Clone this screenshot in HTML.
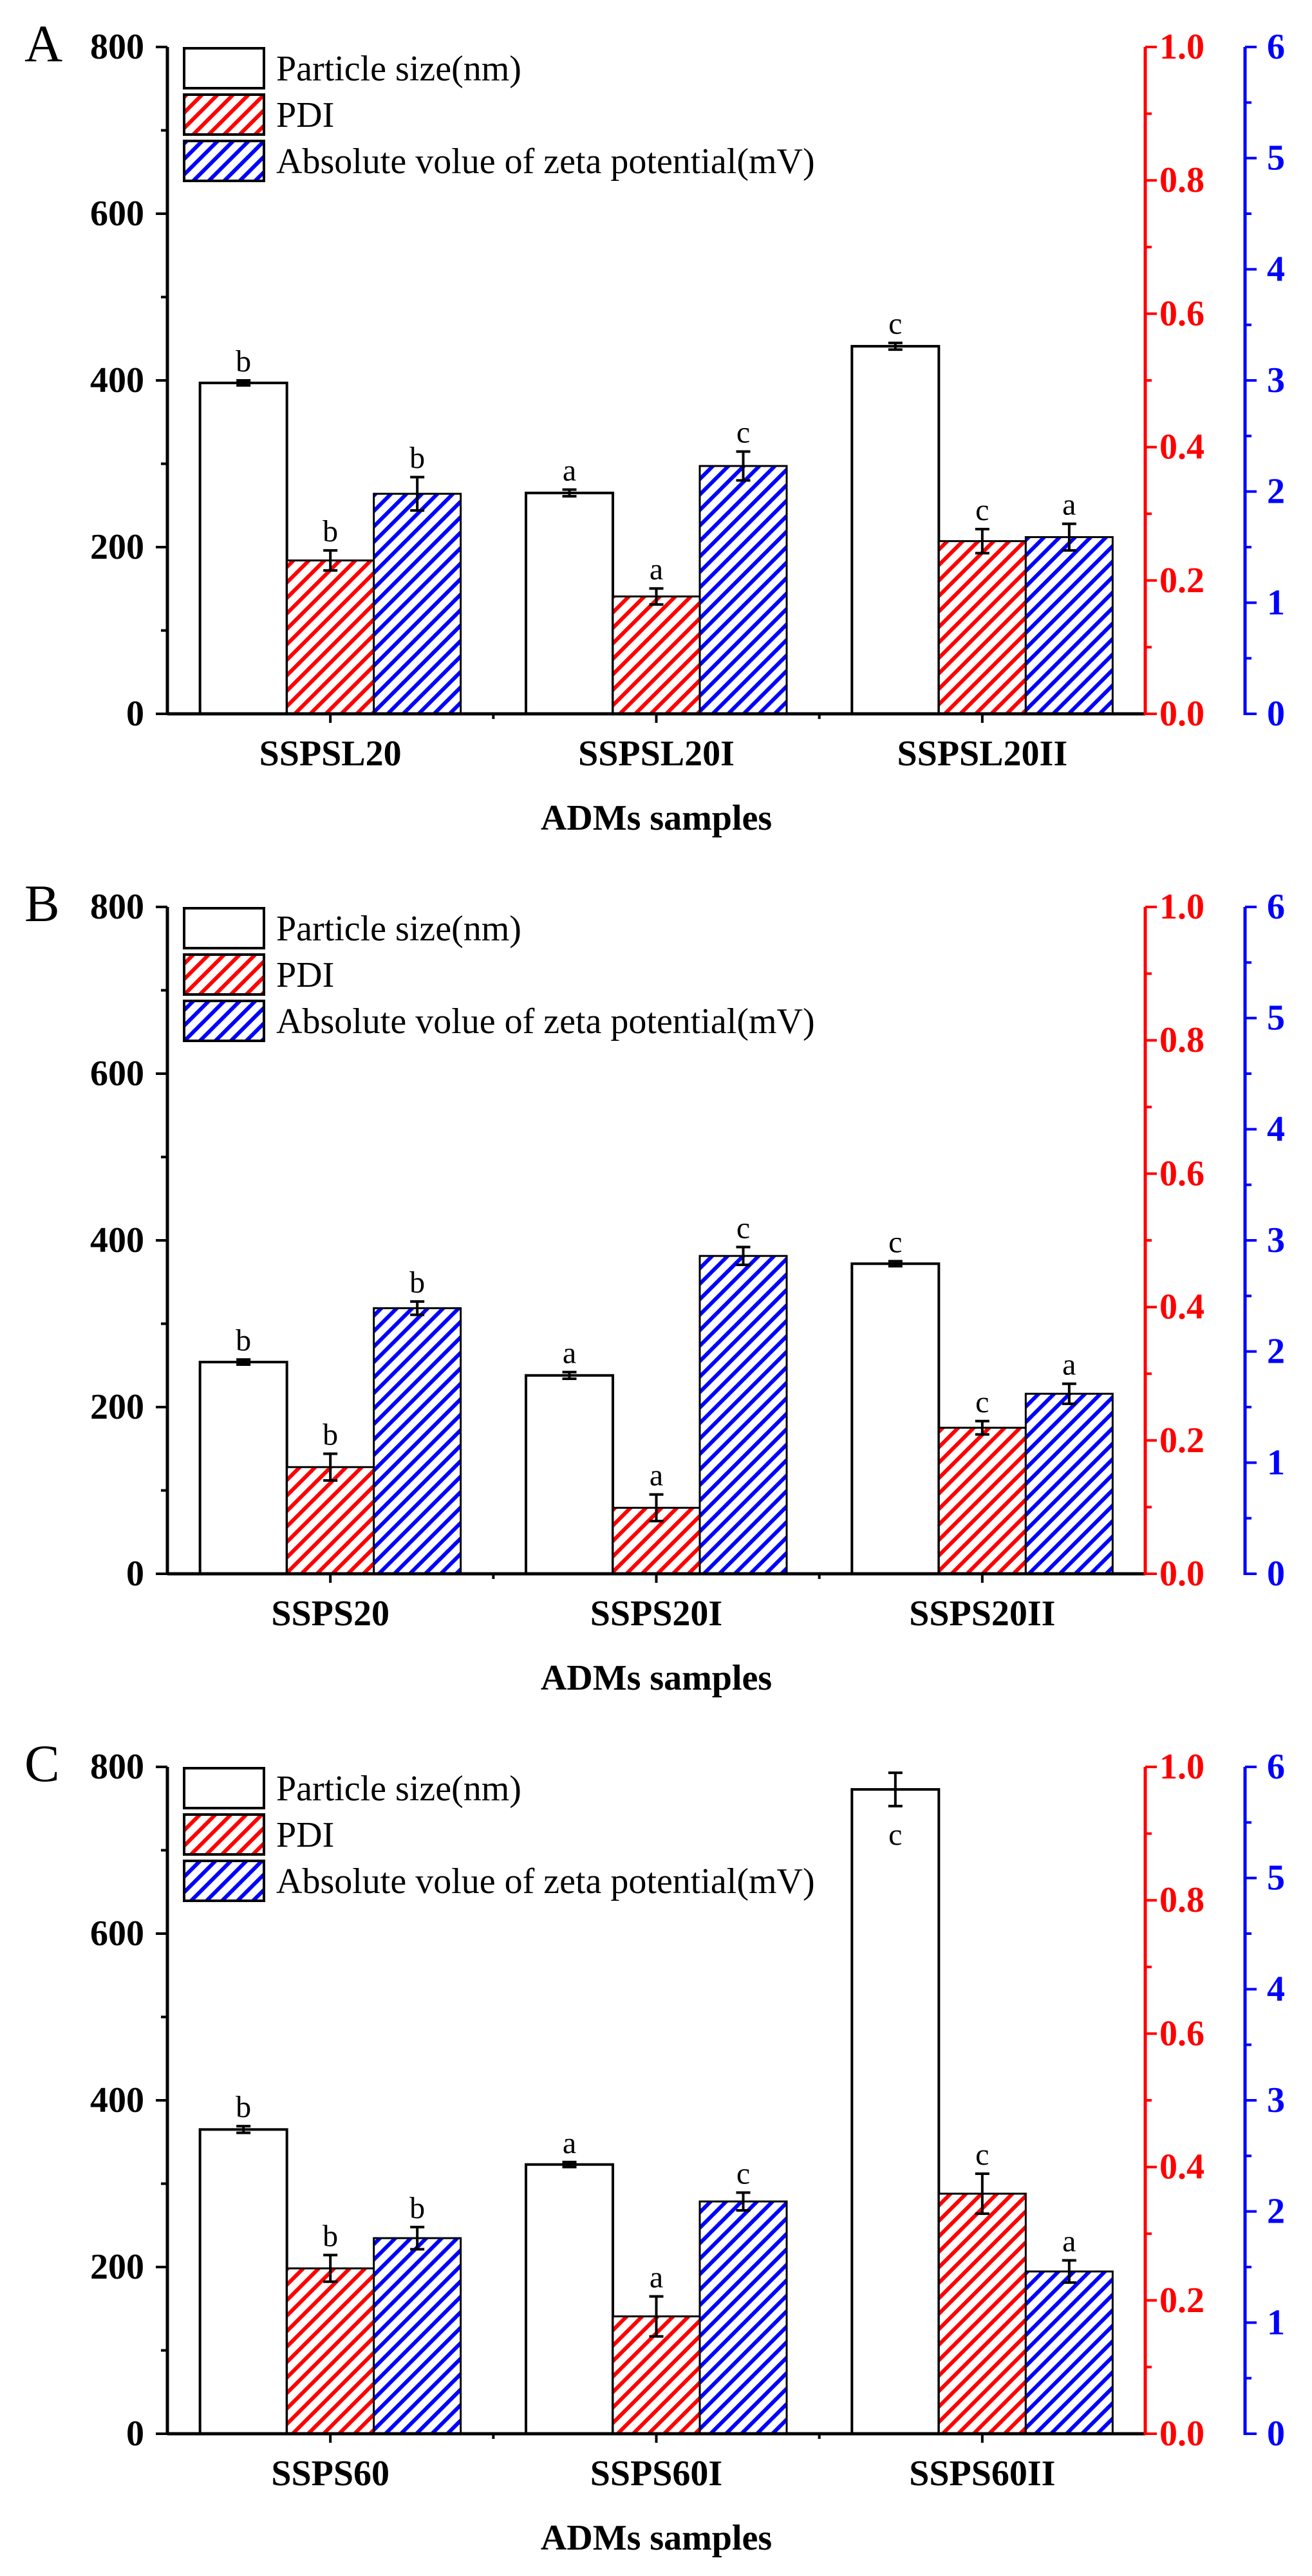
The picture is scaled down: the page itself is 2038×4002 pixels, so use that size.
<!DOCTYPE html>
<html><head><meta charset="utf-8"><style>
html,body{margin:0;padding:0;background:#fff;}
svg{display:block;font-family:"Liberation Serif","Times New Roman",serif;}
svg text{font-family:"Liberation Serif","Times New Roman",serif;}
</style></head><body>
<svg id="chart" width="2038" height="4002" viewBox="0 0 2038 4002" font-family="Liberation Serif, serif" xmlns="http://www.w3.org/2000/svg">
<defs>
<pattern id="hatchRed" patternUnits="userSpaceOnUse" width="17" height="17" patternTransform="rotate(45)">
<rect width="17" height="17" fill="#fff"/><line x1="3" y1="0" x2="3" y2="17" stroke="#ff0000" stroke-width="6"/></pattern>
<pattern id="hatchBlue" patternUnits="userSpaceOnUse" width="17" height="17" patternTransform="rotate(45)">
<rect width="17" height="17" fill="#fff"/><line x1="3" y1="0" x2="3" y2="17" stroke="#0000ff" stroke-width="6"/></pattern>
</defs>
</svg>
<script>
const panelLabels = ["A","B","C"];
const categoriesA = ["SSPSL20","SSPSL20I","SSPSL20II"];
const categoriesB = ["SSPS20","SSPS20I","SSPS20II"];
const categoriesC = ["SSPS60","SSPS60I","SSPS60II"];
const sizeA = [397,265,441], sizeErrA = [3,4,4];
const pdiA = [0.230,0.176,0.259], pdiErrA = [0.015,0.012,0.018];
const zetaA = [1.98,2.23,1.59], zetaErrA = [0.15,0.13,0.12];
const sizeB = [254,238,372], sizeErrB = [3,4,3];
const pdiB = [0.160,0.099,0.219], pdiErrB = [0.020,0.020,0.010];
const zetaB = [2.39,2.86,1.62], zetaErrB = [0.06,0.08,0.09];
const sizeC = [365,323,773], sizeErrC = [4,3,20];
const pdiC = [0.248,0.176,0.360], pdiErrC = [0.020,0.030,0.030];
const zetaC = [1.76,2.09,1.46], zetaErrC = [0.10,0.08,0.10];
const lettersSizeA = ["b","a","c"], lettersPdiA = ["b","a","c"], lettersZetaA = ["b","c","a"];
const lettersSizeB = ["b","a","c"], lettersPdiB = ["b","a","c"], lettersZetaB = ["b","c","a"];
const lettersSizeC = ["b","a","c"], lettersPdiC = ["b","a","c"], lettersZetaC = ["b","c","a"];
const leftTicks = [0,200,400,600,800];
const redTicks = [0.0,0.2,0.4,0.6,0.8,1.0];
const blueTicks = [0,1,2,3,4,5,6];
const legendLabels = ["Particle size(nm)","PDI","Absolute volue of zeta potential(mV)"];

const svg = document.getElementById('chart');
const NS = 'http://www.w3.org/2000/svg';
const FF = '"Liberation Serif", serif';
function mk(tag, attrs, parent){const e=document.createElementNS(NS,tag);for(const k in attrs)e.setAttribute(k,attrs[k]);if(tag==='text')e.style.fontFamily=FF;(parent||svg).appendChild(e);return e;}

const panels = [
 {top:73, label:panelLabels[0], cats:categoriesA, size:sizeA, sizeE:sizeErrA, pdi:pdiA, pdiE:pdiErrA, zeta:zetaA, zetaE:zetaErrA, ls:lettersSizeA, lp:lettersPdiA, lz:lettersZetaA},
 {top:1409, label:panelLabels[1], cats:categoriesB, size:sizeB, sizeE:sizeErrB, pdi:pdiB, pdiE:pdiErrB, zeta:zetaB, zetaE:zetaErrB, ls:lettersSizeB, lp:lettersPdiB, lz:lettersZetaB},
 {top:2745, label:panelLabels[2], cats:categoriesC, size:sizeC, sizeE:sizeErrC, pdi:pdiC, pdiE:pdiErrC, zeta:zetaC, zetaE:zetaErrC, ls:lettersSizeC, lp:lettersPdiC, lz:lettersZetaC}
];
const X0=260, X1=1779, XB=1934, H=1036, BW=135;

panels.forEach((p,pi)=>{
  const g = mk('g',{});
  
  
  const yL = v => p.top + H - v/800*H;
  const yR = v => p.top + H - v/1.0*H;
  const yBl = v => p.top + H - v/6*H;
  const xc = i => X0 + (X1-X0)/3*(i+0.5);
  const base = p.top+H;

  const pl = mk('text',{x:38,y:p.top+22,'font-size':82},g); pl.textContent=p.label;
   

  function letter(txt,x,y,name){const t=mk('text',{x:x,y:y,'font-size':48,'text-anchor':'middle'},g);t.textContent=txt;
    }
  function errbar(x,yt,yb,name){const eg=mk('g',{stroke:'#000','stroke-width':4},g);
    
    mk('line',{x1:x,x2:x,y1:yt,y2:yb},eg);mk('line',{x1:x-11,x2:x+11,y1:yt,y2:yt},eg);mk('line',{x1:x-11,x2:x+11,y1:yb,y2:yb},eg);}

  p.cats.forEach((c,i)=>{
    const cx = xc(i);
    let x = cx-BW*1.5, y = yL(p.size[i]);
    const b1=mk('rect',{x:x,y:y,width:BW,height:base-y,fill:'#fff',stroke:'#000','stroke-width':4},g);
    
    errbar(x+BW/2,yL(p.size[i]+p.sizeE[i]),yL(p.size[i]-p.sizeE[i]),'error-bar-size-'+c);
    if(p.size[i]>700) letter(p.ls[i],x+BW/2,yL(p.size[i]-p.sizeE[i])+60,'letter-size-'+c);
    else letter(p.ls[i],x+BW/2,yL(p.size[i]+p.sizeE[i])-14,'letter-size-'+c);
    x = cx-BW/2; y = yR(p.pdi[i]);
    const b2=mk('rect',{x:x,y:y,width:BW,height:base-y,fill:'url(#hatchRed)',stroke:'#000','stroke-width':3},g);
    
    errbar(x+BW/2,yR(p.pdi[i]+p.pdiE[i]),yR(p.pdi[i]-p.pdiE[i]),'error-bar-pdi-'+c);
    letter(p.lp[i],x+BW/2,yR(p.pdi[i]+p.pdiE[i])-14,'letter-pdi-'+c);
    x = cx+BW/2; y = yBl(p.zeta[i]);
    const b3=mk('rect',{x:x,y:y,width:BW,height:base-y,fill:'url(#hatchBlue)',stroke:'#000','stroke-width':3},g);
    
    errbar(x+BW/2,yBl(p.zeta[i]+p.zetaE[i]),yBl(p.zeta[i]-p.zetaE[i]),'error-bar-zeta-'+c);
    letter(p.lz[i],x+BW/2,yBl(p.zeta[i]+p.zetaE[i])-14,'letter-zeta-'+c);
    mk('line',{x1:cx,x2:cx,y1:base,y2:base+14,stroke:'#000','stroke-width':4},g);
    const cl=mk('text',{x:cx,y:base+80,'font-size':56,'font-weight':'bold','text-anchor':'middle'},g);cl.textContent=c;
    
    if(i>0) mk('line',{x1:X0+(X1-X0)/3*i,x2:X0+(X1-X0)/3*i,y1:base,y2:base+8,stroke:'#000','stroke-width':4},g);
  });

  const ax=mk('g',{},g);
  mk('line',{x1:X0,x2:X0,y1:p.top,y2:base+2,stroke:'#000','stroke-width':5},ax);
  mk('line',{x1:X0,x2:X1,y1:base,y2:base,stroke:'#000','stroke-width':5},ax);
  mk('line',{x1:X1,x2:X1,y1:p.top,y2:base+2,stroke:'#ff0000','stroke-width':5},ax);
  mk('line',{x1:XB,x2:XB,y1:p.top,y2:base+2,stroke:'#0000ff','stroke-width':5},ax);
  for(let v=0;v<=800;v+=100){const y=yL(v);mk('line',{x1:X0-(v%200?10:18),x2:X0,y1:y,y2:y,stroke:'#000','stroke-width':4},ax);}
  leftTicks.forEach(v=>{const t=mk('text',{x:X0-36,y:yL(v)+18,'font-size':56,'font-weight':'bold','text-anchor':'end'},ax);t.textContent=v;
    });
  for(let k=0;k<=10;k++){const y=yR(k/10);mk('line',{x1:X1,x2:X1+(k%2?10:18),y1:y,y2:y,stroke:'#ff0000','stroke-width':4},ax);}
  redTicks.forEach(v=>{const t=mk('text',{x:X1+22,y:yR(v)+18,'font-size':56,'font-weight':'bold',fill:'#ff0000'},ax);t.textContent=v.toFixed(1);
    });
  for(let k=0;k<=12;k++){const y=yBl(k/2);mk('line',{x1:XB,x2:XB+(k%2?10:18),y1:y,y2:y,stroke:'#0000ff','stroke-width':4},ax);}
  blueTicks.forEach(v=>{const t=mk('text',{x:XB+34,y:yBl(v)+18,'font-size':56,'font-weight':'bold',fill:'#0000ff'},ax);t.textContent=v;
    });
  const xt=mk('text',{x:(X0+X1)/2,y:base+180,'font-size':56,'font-weight':'bold','text-anchor':'middle'},g);xt.textContent='ADMs samples';
  

  const lg=mk('g',{},g);
  const fills=['#fff','url(#hatchRed)','url(#hatchBlue)'];
  legendLabels.forEach((L,k)=>{
    const ly=p.top+2+k*72;
    const r=mk('rect',{x:286,y:ly,width:124,height:62,fill:fills[k],stroke:'#000','stroke-width':4},lg);
    
    const t=mk('text',{x:429,y:ly+50,'font-size':56},lg);t.textContent=L;
    
  });
});
</script>
</body></html>
